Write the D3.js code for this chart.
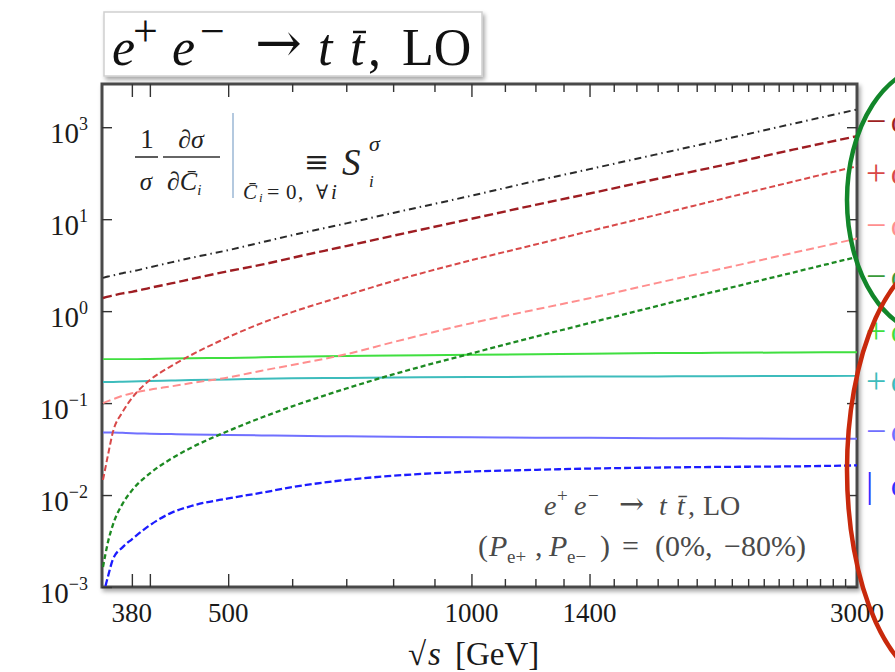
<!DOCTYPE html>
<html>
<head>
<meta charset="utf-8">
<script src="https://cdn.jsdelivr.net/npm/d3@7"></script>
<style>
  body { margin: 0; background: #fff; }
  svg { display: block; font-family: "Liberation Serif", "DejaVu Serif", serif; }
</style>
</head>
<body>
<div id="chart"></div>
<script>
// sqrt(s) in GeV
const energies = [350, 355, 360, 370, 380, 400, 425, 450, 500, 550, 600, 700, 800, 1000, 1200, 1400, 1700, 2000, 2500, 3000];

// S_i^sigma, one array per curve
const totalValues   = [2.3, 2.38, 2.44, 2.58, 2.7, 3.0, 3.39, 3.8, 4.6, 5.6, 6.7, 9.0, 11.7, 18, 26, 35, 51, 70, 109, 156];
const darkRedValues = [1.39, 1.44, 1.48, 1.56, 1.62, 1.79, 2.0, 2.23, 2.72, 3.2, 3.8, 5.1, 6.6, 10.1, 14.3, 19, 27.5, 37, 57, 80];
const redValues     = [0.0146, 0.0272, 0.0484, 0.0798, 0.113, 0.178, 0.252, 0.333, 0.521, 0.741, 0.975, 1.49, 2.12, 3.58, 5.3, 7.41, 11.2, 15.9, 25.6, 37.7];
const pinkValues    = [0.10, 0.105, 0.11, 0.12, 0.128, 0.14, 0.152, 0.165, 0.19, 0.225, 0.26, 0.34, 0.46, 0.74, 1.04, 1.38, 2.03, 2.78, 4.3, 6.15];
const greenValues   = [0.00165, 0.00308, 0.00475, 0.00802, 0.0112, 0.0172, 0.0248, 0.0327, 0.0497, 0.0697, 0.092, 0.144, 0.205, 0.347, 0.526, 0.743, 1.14, 1.63, 2.63, 3.89];
const limeValues    = [0.30, 0.30, 0.30, 0.30, 0.30, 0.302, 0.305, 0.307, 0.31, 0.315, 0.32, 0.325, 0.33, 0.335, 0.34, 0.345, 0.35, 0.352, 0.355, 0.358];
const tealValues    = [0.17, 0.17, 0.17, 0.171, 0.172, 0.174, 0.176, 0.178, 0.181, 0.184, 0.186, 0.188, 0.19, 0.192, 0.193, 0.194, 0.195, 0.196, 0.197, 0.198];
const lightBlueValues = [0.048, 0.048, 0.048, 0.0475, 0.047, 0.0465, 0.046, 0.0455, 0.045, 0.0445, 0.044, 0.0435, 0.043, 0.0425, 0.042, 0.042, 0.0415, 0.0415, 0.041, 0.041];
const blueValues    = [0.0008, 0.0013, 0.002, 0.0027, 0.0033, 0.0047, 0.0064, 0.0076, 0.0092, 0.0106, 0.0122, 0.0146, 0.0162, 0.018, 0.0188, 0.0194, 0.0199, 0.0202, 0.0205, 0.021];

// axis ticks
const xLabelTicks = [380, 500, 1000, 1400, 3000];
const xLongTicks = [380, 400, 500, 1000, 1400];
const xShortTicks = [600, 700, 800, 900, 1100, 1200, 1300, 1500, 1600, 1700, 1800, 1900, 2000,
                     2100, 2200, 2300, 2400, 2500, 2600, 2700, 2800, 2900];
const yTickValues = [1e-3, 1e-2, 1e-1, 1e0, 1e1, 1e2];
const yTickExponents = ["−3", "−2", "−1", "0", "1", "3"];

// legend glyphs on the cut-off right edge
const legendMarks = ["−", "+", "−", "−", "+", "+", "−", "|"];

const series = [
    { values: limeValues,      color: "#3fdf3f", dash: null,          width: 2 },
    { values: tealValues,      color: "#3dbcbc", dash: null,          width: 2 },
    { values: lightBlueValues, color: "#6f6fff", dash: null,          width: 2 },
    { values: totalValues,     color: "#2b2b2b", dash: "7,4,1.5,4",   width: 2 },
    { values: darkRedValues,   color: "#9e1f22", dash: "9,4",         width: 2.4 },
    { values: redValues,       color: "#d84848", dash: "6,3",         width: 2 },
    { values: pinkValues,      color: "#ff8e8e", dash: "8,4",         width: 2 },
    { values: greenValues,     color: "#1f8a24", dash: "5,3",         width: 2.3 },
    { values: blueValues,      color: "#1d1dff", dash: "7,3",         width: 2.3 }
];
const legendColors = ["#9e1f22", "#d84848", "#ff8e8e", "#3a9a3a", "#3fdf3f", "#3dbcbc", "#6f6fff", "#3030ff"];

const width = 895, height = 672;
const plot = { left: 102, right: 857, top: 84, bottom: 587 };

const svg = d3.select("#chart").append("svg")
    .attr("width", width)
    .attr("height", height);

svg.append("rect").attr("width", width).attr("height", height).attr("fill", "#fff");

const defs = svg.append("defs");
const shadow = defs.append("filter").attr("id", "shadow")
    .attr("x", "-5%").attr("y", "-5%").attr("width", "110%").attr("height", "115%");
shadow.append("feDropShadow")
    .attr("dx", 2).attr("dy", 3).attr("stdDeviation", 2)
    .attr("flood-color", "#000").attr("flood-opacity", 0.35);
const soft = defs.append("filter").attr("id", "soft");
soft.append("feGaussianBlur").attr("stdDeviation", 0.45);

defs.append("clipPath").attr("id", "plot-clip")
    .append("rect")
    .attr("x", plot.left).attr("y", plot.top)
    .attr("width", plot.right - plot.left).attr("height", plot.bottom - plot.top);

const x = d3.scaleLog()
    .domain([349, 3000])
    .range([plot.left, plot.right]);

const y = d3.scaleLog()
    .domain([1e-3, Math.pow(10, 2.47)])
    .range([plot.bottom, plot.top]);

// small helper for hand-set math pieces: [text, x, y, size, italic, family]
function placeText(g, pieces) {
    pieces.forEach(([t, px, py, size, italic, family]) => {
        const el = g.append("text")
            .attr("x", px).attr("y", py)
            .style("font-size", size + "px")
            .style("font-style", italic ? "italic" : "normal")
            .text(t);
        if (family) el.style("font-family", family);
    });
}

// frame with shadow
svg.append("rect")
    .attr("x", plot.left).attr("y", plot.top)
    .attr("width", plot.right - plot.left).attr("height", plot.bottom - plot.top)
    .attr("fill", "#fff")
    .attr("stroke", "#4a4a4a")
    .attr("stroke-width", 3)
    .attr("filter", "url(#shadow)");

// x ticks, bottom and top
function styleTicks(g) {
    g.select(".domain").remove();
    g.selectAll(".tick line").attr("stroke", "#333").attr("stroke-width", 1.4);
}
svg.append("g")
    .attr("transform", `translate(0,${plot.bottom})`)
    .call(d3.axisBottom(x).tickValues(xLongTicks).tickSize(-13).tickFormat(""))
    .call(styleTicks);
svg.append("g")
    .attr("transform", `translate(0,${plot.bottom})`)
    .call(d3.axisBottom(x).tickValues(xShortTicks).tickSize(-8).tickFormat(""))
    .call(styleTicks);
svg.append("g")
    .attr("transform", `translate(0,${plot.top})`)
    .call(d3.axisTop(x).tickValues(xLongTicks).tickSize(-13).tickFormat(""))
    .call(styleTicks);
svg.append("g")
    .attr("transform", `translate(0,${plot.top})`)
    .call(d3.axisTop(x).tickValues(xShortTicks).tickSize(-8).tickFormat(""))
    .call(styleTicks);

// y ticks, left and right
svg.append("g")
    .attr("transform", `translate(${plot.left},0)`)
    .call(d3.axisLeft(y).tickValues(yTickValues).tickSize(-10).tickFormat(""))
    .call(styleTicks);
svg.append("g")
    .attr("transform", `translate(${plot.right},0)`)
    .call(d3.axisRight(y).tickValues(yTickValues).tickSize(-10).tickFormat(""))
    .call(styleTicks);

// x tick labels
svg.append("g").selectAll("text")
    .data(xLabelTicks)
    .enter().append("text")
    .attr("x", d => x(d))
    .attr("y", 622)
    .attr("text-anchor", "middle")
    .style("font-size", "27px")
    .attr("fill", "#1a1a1a")
    .text(d => d);

// y tick labels 10^n
const yLabels = svg.append("g").selectAll("text")
    .data(yTickValues)
    .enter().append("text")
    .attr("x", 88)
    .attr("y", d => y(d) + 16)
    .attr("text-anchor", "end")
    .attr("fill", "#1a1a1a");
yLabels.append("tspan").style("font-size", "29px").text("10");
yLabels.append("tspan").style("font-size", "18px").attr("dy", -13).text((d, i) => yTickExponents[i]);

// curves
const line = d3.line()
    .x((d, i) => x(energies[i]))
    .y(d => y(d))
    .curve(d3.curveMonotoneX);

svg.append("g")
    .attr("clip-path", "url(#plot-clip)")
    .selectAll("path")
    .data(series)
    .enter().append("path")
    .attr("d", d => line(d.values))
    .attr("fill", "none")
    .attr("stroke", d => d.color)
    .attr("stroke-width", d => d.width)
    .attr("stroke-dasharray", d => d.dash)
    .attr("filter", "url(#soft)");

// formula in the top left corner
const formula = svg.append("g").attr("fill", "#222");
formula.append("text").attr("x", 147).attr("y", 148).attr("text-anchor", "middle")
    .style("font-size", "27px").text("1");
formula.append("line").attr("x1", 135).attr("x2", 158).attr("y1", 157).attr("y2", 157)
    .attr("stroke", "#333").attr("stroke-width", 1.6);
formula.append("text").attr("x", 146).attr("y", 190).attr("text-anchor", "middle")
    .style("font-size", "25px").style("font-style", "italic").text("σ");
formula.append("text").attr("x", 191).attr("y", 148).attr("text-anchor", "middle")
    .style("font-size", "26px").style("font-style", "italic").text("∂σ");
formula.append("line").attr("x1", 163).attr("x2", 220).attr("y1", 157).attr("y2", 157)
    .attr("stroke", "#333").attr("stroke-width", 1.6);
const dC = formula.append("text").attr("x", 167).attr("y", 190)
    .style("font-size", "26px").style("font-style", "italic");
dC.append("tspan").text("∂C̄");
dC.append("tspan").style("font-size", "15px").attr("dy", 5).text("i");
formula.append("line").attr("x1", 233).attr("x2", 233).attr("y1", 113).attr("y2", 198)
    .attr("stroke", "#9bb7d4").attr("stroke-width", 1.5);
placeText(formula, [
    ["C̄", 243, 199, 21, true],
    ["i", 259, 202, 13, true],
    ["=", 267, 199, 22, false],
    ["0", 286, 199, 21, false],
    [",", 298, 199, 21, false],
    ["∀", 316, 199, 20, false],
    ["i", 331, 199, 21, true],
    ["≡", 304, 172, 30, false, "'DejaVu Serif', serif"],
    ["S", 342, 175, 37, true],
    ["σ", 369, 151, 22, true],
    ["i", 369, 187, 17, true]
]);

// process note in the lower right corner
const note = svg.append("g").attr("fill", "#4a4a4a");
placeText(note, [
    ["e", 544, 515, 28, true],
    ["+", 557, 502, 19, false],
    ["e", 574, 515, 28, true],
    ["−", 588, 502, 19, false],
    ["→", 619, 514, 30, false, "'DejaVu Serif', serif"],
    ["t", 659, 515, 28, true],
    ["t̄", 677, 515, 28, true],
    [",", 688, 515, 28, false],
    ["LO", 703, 515, 28, false],
    ["(", 478, 556, 30, false],
    ["P", 489, 556, 30, true],
    ["e+", 507, 563, 19, false],
    [",", 535, 556, 30, false],
    ["P", 549, 556, 30, true],
    ["e−", 567, 563, 19, false],
    [")", 600, 556, 30, false],
    ["=", 622, 556, 30, false],
    ["(0%,", 655, 556, 30, false],
    ["−80%)", 724, 556, 30, false]
]);

// x axis title
placeText(svg.append("g").attr("fill", "#1a1a1a"), [
    ["√", 408, 665, 33, false],
    ["s", 428, 665, 33, true],
    ["[GeV]", 455, 665, 33, false]
]);

// title box
svg.append("rect")
    .attr("x", 104).attr("y", 12).attr("width", 378).attr("height", 64)
    .attr("fill", "#fff").attr("stroke", "#cfcfcf").attr("stroke-width", 1.5)
    .attr("filter", "url(#shadow)");
const title = svg.append("g").attr("fill", "#111");
placeText(title, [
    ["e", 112, 65, 52, true],
    ["+", 133, 46, 44, false],
    ["e", 172, 65, 52, true],
    ["−", 200, 46, 44, false],
    ["t", 318, 65, 52, true],
    ["t", 350, 65, 52, true],
    [",", 368, 65, 52, false],
    ["LO", 402, 65, 52, false],
    ["→", 255, 62, 56, false, "'DejaVu Serif', serif"]
]);
title.append("line").attr("x1", 353).attr("x2", 366).attr("y1", 32).attr("y2", 32)
    .attr("stroke", "#111").attr("stroke-width", 2.5);

// legend fragments cut by the page edge
const legendY = [123, 175, 227, 278, 333, 383, 433, 487];
const legend = svg.append("g").style("font-size", "36px");
legendMarks.forEach((m, i) => {
    legend.append("text")
        .attr("x", 866).attr("y", legendY[i] + 10)
        .attr("fill", legendColors[i])
        .text(m);
    legend.append("text")
        .attr("x", 891).attr("y", legendY[i] + 10)
        .attr("fill", legendColors[i])
        .style("font-size", "26px")
        .text("C");
});

// highlight ellipses
svg.append("ellipse")
    .attr("cx", 935).attr("cy", 200).attr("rx", 88).attr("ry", 135)
    .attr("fill", "none").attr("stroke", "#12862a").attr("stroke-width", 4.5);
svg.append("ellipse")
    .attr("cx", 945).attr("cy", 470).attr("rx", 98).attr("ry", 215)
    .attr("fill", "none").attr("stroke", "#c8290c").attr("stroke-width", 4.5);
</script>
</body>
</html>
